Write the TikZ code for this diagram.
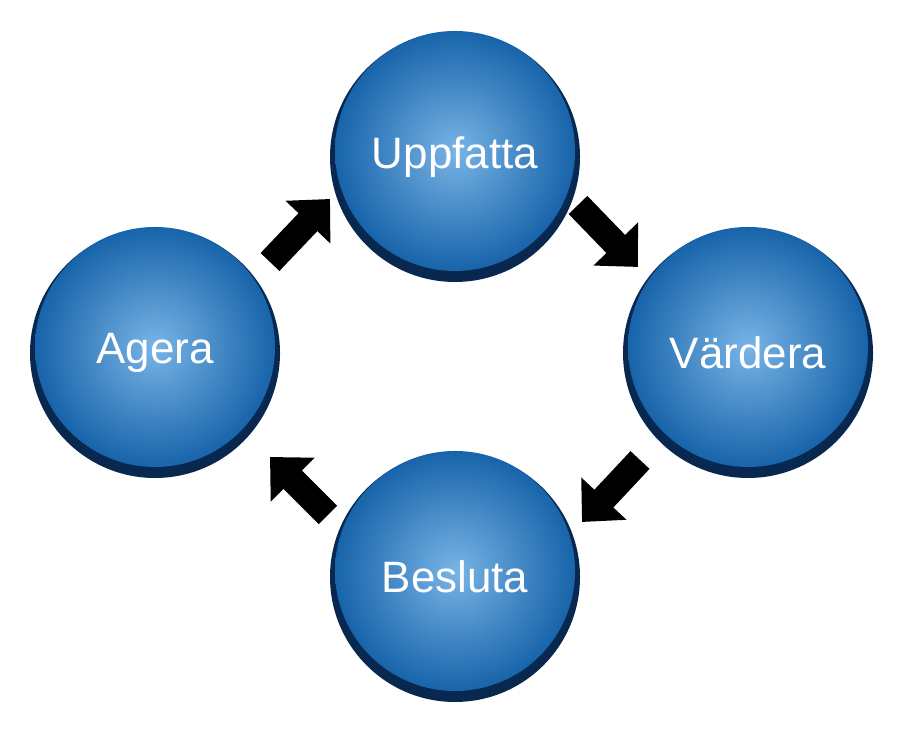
\documentclass[tikz,border=0pt]{standalone}
\usepackage{fontspec}
\setmainfont{Liberation Sans}
\usetikzlibrary{arrows.meta}
\definecolor{DiscBlue}{RGB}{24,100,170}
\definecolor{DiscLight}{RGB}{120,180,230}
\definecolor{DiscDark}{RGB}{8,40,80}
\tikzset{
  disc/.style={circle, minimum size=2.5cm, inner sep=0pt, text=white,
    font=\fontsize{12.5}{14}\selectfont},
  cyclearrow/.style={line width=0.26cm, -{Triangle[length=0.32cm, width=0.6cm]}, black}
}
\begin{document}
\begin{tikzpicture}
 \useasboundingbox (0,0) rectangle (9.10,7.37);

 %%%%%%%%%% Centres %%%%%%%%%%
 \coordinate (pU) at (4.55,5.80);
 \coordinate (pV) at (7.48,3.84);
 \coordinate (pB) at (4.55,1.60);
 \coordinate (pA) at (1.55,3.84);

 %%%%%%%%%% Discs %%%%%%%%%%
 \foreach \p in {pU,pV,pB,pA}
 {
   \fill[DiscDark] (\p) circle (1.25cm);
   \shade[inner color=DiscLight, outer color=DiscBlue] ([yshift=0.06cm]\p) circle (1.20cm);
 }

 \node[disc] (upp) at (pU) {Uppfatta};
 \node[disc] (var) at (pV) {Värdera};
 \node[disc] (bes) at (pB) {Besluta};
 \node[disc] (age) at (pA) {Agera};

 % Arrows
 \coordinate (a1) at (2.70,4.75);  \coordinate (b1) at (3.30,5.38);
 \coordinate (a2) at (5.78,5.32);  \coordinate (b2) at (6.38,4.70);
 \coordinate (a3) at (6.40,2.77);  \coordinate (b3) at (5.82,2.15);
 \coordinate (a4) at (3.28,2.22);  \coordinate (b4) at (2.70,2.80);
 \draw[cyclearrow] (a1) -- (b1);
 \draw[cyclearrow] (a2) -- (b2);
 \draw[cyclearrow] (a3) -- (b3);
 \draw[cyclearrow] (a4) -- (b4);

\end{tikzpicture}
\end{document}
